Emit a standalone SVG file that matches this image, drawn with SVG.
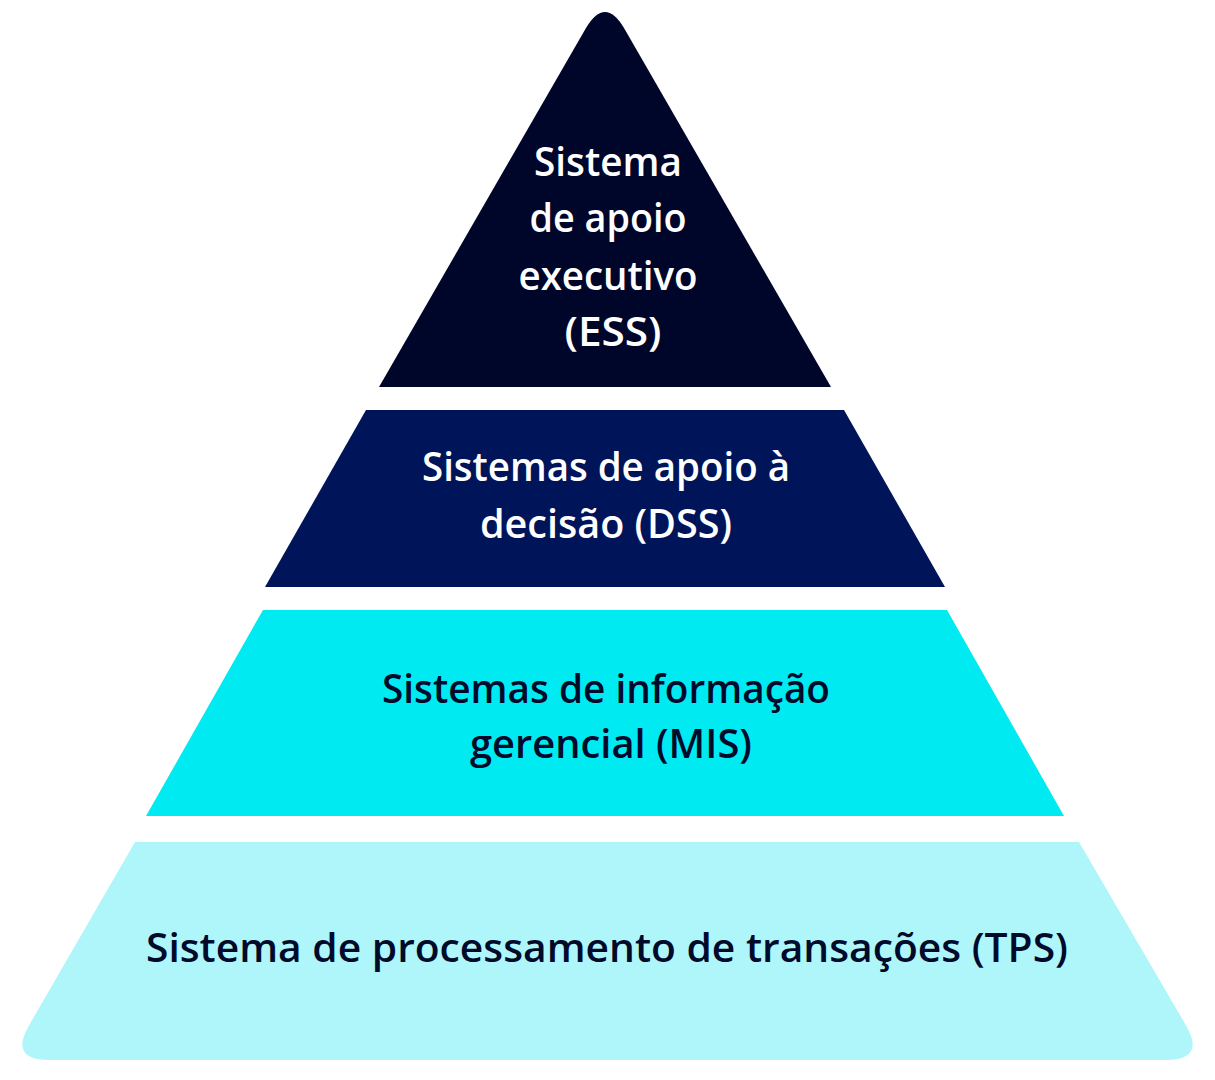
<svg xmlns="http://www.w3.org/2000/svg" width="1215" height="1080" viewBox="0 0 1215 1080">
<style>
.t{font-family:"Open Sans","Liberation Sans",sans-serif;font-size:40px;font-weight:600;text-anchor:middle}
.w{fill:#ffffff}
.d{fill:#000a2a}
</style>
<rect width="1215" height="1080" fill="#ffffff"/>
<g id="ess">
<path d="M379,387 L586,28 Q605,-4 624,28 L831,387 Z" fill="#00052a"/>
<text class="t w" x="608" y="176" textLength="148" lengthAdjust="spacingAndGlyphs">Sistema</text>
<text class="t w" x="608" y="232" textLength="157" lengthAdjust="spacingAndGlyphs">de apoio</text>
<text class="t w" x="608" y="290" textLength="179" lengthAdjust="spacingAndGlyphs">executivo</text>
<text class="t w" x="613" y="346" textLength="97" lengthAdjust="spacingAndGlyphs">(ESS)</text>
</g>
<g id="dss">
<path d="M366,410 L844,410 L945,587 L265,587 Z" fill="#00145a"/>
<text class="t w" x="606" y="481" textLength="368" lengthAdjust="spacingAndGlyphs">Sistemas de apoio à</text>
<text class="t w" x="606" y="538" textLength="252" lengthAdjust="spacingAndGlyphs">decisão (DSS)</text>
</g>
<g id="mis">
<path d="M263,610 L947,610 L1064,816 L146,816 Z" fill="#00eaf2"/>
<text class="t d" x="606" y="703" textLength="448" lengthAdjust="spacingAndGlyphs">Sistemas de informação</text>
<text class="t d" x="611" y="758" textLength="282" lengthAdjust="spacingAndGlyphs">gerencial (MIS)</text>
</g>
<g id="tps">
<path d="M135,842 L1079,842 L1186,1025.4 Q1206,1060 1166,1060 L49,1060 Q9,1060 29,1025.4 Z" fill="#aef6fa"/>
<text class="t d" x="607" y="962" textLength="922" lengthAdjust="spacingAndGlyphs">Sistema de processamento de transações (TPS)</text>
</g>
<g id="connectors"/>
</svg>
